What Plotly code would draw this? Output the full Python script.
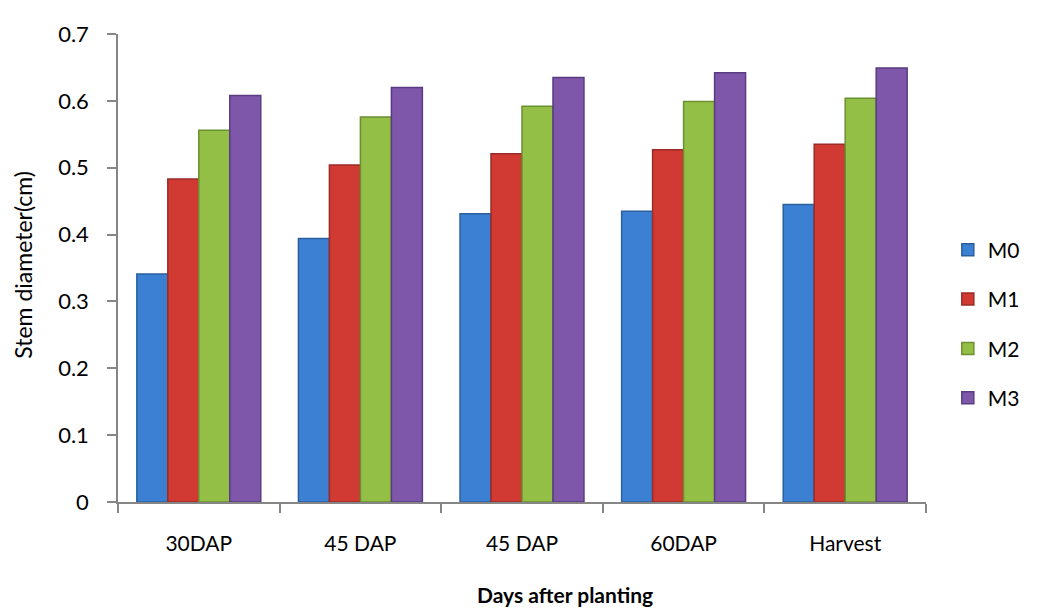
import plotly.graph_objects as go

categories = ["30DAP", "45 DAP", "45 DAP", "60DAP", "Harvest"]
series_names = ["M0", "M1", "M2", "M3"]
M0 = [0.341, 0.394, 0.431, 0.435, 0.445]
M1 = [0.483, 0.504, 0.521, 0.527, 0.535]
M2 = [0.556, 0.576, 0.592, 0.599, 0.604]
M3 = [0.608, 0.620, 0.635, 0.642, 0.649]
y_ticks = [0, 0.1, 0.2, 0.3, 0.4, 0.5, 0.6, 0.7]
x_title = "Days after planting"
y_title = "Stem diameter(cm)"

colors = ["#3B80D2", "#D13A33", "#94BF46", "#7E56AA"]
edges = ["#2B5F9E", "#9A2B26", "#6C8F31", "#5A3D80"]

x_pos = list(range(len(categories)))
font_family = "Lato, 'Open Sans', sans-serif"

fig = go.Figure()
for name, vals, c, e in zip(series_names, [M0, M1, M2, M3], colors, edges):
    fig.add_trace(go.Bar(
        x=x_pos, y=vals, name=name, legendgroup=name,
        marker=dict(color=c, line=dict(color=e, width=1.5)),
    ))

# page body adds an 8px offset, so the figure is 8px smaller on each axis
fig.update_layout(
    width=1049, height=604,
    margin=dict(l=110, r=131, t=21, b=110),
    paper_bgcolor="white", plot_bgcolor="white",
    barmode="group", bargap=0.233, bargroupgap=0.0,
    font=dict(family=font_family, size=21, color="#000000"),
    legend=dict(x=1.027, y=0.38, xanchor="left", yanchor="middle",
                tracegroupgap=19, font=dict(size=21), itemwidth=30),
    showlegend=True,
)

fig.update_xaxes(
    range=[-0.5, 4.5],
    tickmode="array", tickvals=x_pos, ticktext=categories,
    ticks="", showgrid=False, zeroline=False,
    showline=True, linecolor="#868686", linewidth=1.5,
    minor=dict(tickmode="linear", tick0=-0.5, dtick=1, ticks="outside",
               ticklen=9, tickcolor="#868686", tickwidth=1.5, showgrid=False),
    tickfont=dict(size=21),
    ticklabelstandoff=22,
)
fig.update_yaxes(
    range=[0, 0.7],
    tickmode="array", tickvals=y_ticks, ticktext=[str(v) for v in y_ticks],
    ticks="outside", ticklen=9, tickcolor="#868686", tickwidth=1.5,
    showgrid=False, zeroline=False,
    showline=True, linecolor="#868686", linewidth=1.5,
    tickfont=dict(size=22),
    ticklabelstandoff=14,
)

fig.add_annotation(
    text="<b>" + x_title + "</b>", xref="paper", yref="paper",
    x=0.553, y=-0.197, showarrow=False, xanchor="center", yanchor="middle",
    font=dict(size=21),
)
fig.add_annotation(
    text=y_title, xref="paper", yref="paper", textangle=-90,
    x=-0.1176, y=0.507, showarrow=False, xanchor="center", yanchor="middle",
    font=dict(size=23),
)

fig.write_html("out.html")
